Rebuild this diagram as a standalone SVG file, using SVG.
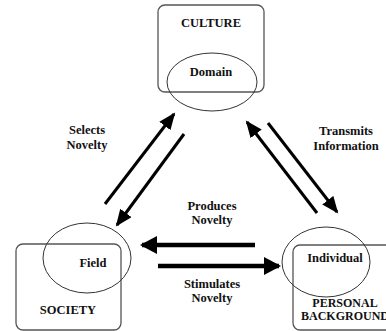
<svg xmlns="http://www.w3.org/2000/svg" width="386" height="331" viewBox="0 0 386 331" font-family="Liberation Serif, Times New Roman, serif">
<style>
text{font-size:12.5px;font-weight:bold;fill:#111;text-anchor:middle}
.box{fill:none;stroke:#555;stroke-width:1.3}
.ell{fill:none;stroke:#333;stroke-width:1}
.arr{stroke:#000;stroke-width:3;fill:none;marker-end:url(#ah)}
.harr{stroke:#000;stroke-width:4.5;fill:none;marker-end:url(#hh)}
</style>
<defs>
<marker id="ah" markerUnits="userSpaceOnUse" markerWidth="18" markerHeight="16" refX="15" refY="7" orient="auto"><path d="M0,0 L17,7 L0,14 z" fill="#000"/></marker>
<marker id="hh" markerUnits="userSpaceOnUse" markerWidth="20" markerHeight="20" refX="15" refY="9" orient="auto"><path d="M0,0 L17,9 L0,18 z" fill="#000"/></marker>
</defs>
<rect width="386" height="331" fill="#fff"/>
<g id="culture">
<rect class="box" x="158" y="5" width="106" height="87" rx="7"/>
<ellipse class="ell" cx="212" cy="82" rx="45" ry="29"/>
<text x="211" y="27">CULTURE</text>
<text x="211" y="76">Domain</text>
</g>
<g id="society">
<rect class="box" x="16" y="244" width="105" height="86" rx="7"/>
<ellipse class="ell" cx="87" cy="258" rx="44" ry="35"/>
<text x="93" y="267">Field</text>
<text x="68" y="314">SOCIETY</text>
</g>
<g id="personal">
<rect class="box" x="293" y="245" width="100" height="85" rx="7"/>
<ellipse class="ell" cx="326" cy="262" rx="44" ry="35"/>
<text x="335" y="262">Individual</text>
<text x="345" y="307" style="font-size:12px">PERSONAL</text>
<text x="345" y="320" style="font-size:12px">BACKGROUND</text>
</g>
<g id="connectors">
<line class="arr" x1="105" y1="204" x2="174" y2="114"/>
<line class="arr" x1="184" y1="134" x2="117" y2="225"/>
<line class="arr" x1="317" y1="213" x2="247" y2="122"/>
<line class="arr" x1="268" y1="123" x2="337" y2="212"/>
<line class="harr" x1="255" y1="245" x2="142" y2="245"/>
<line class="harr" x1="158" y1="266" x2="279" y2="266"/>
</g>
<g id="labels">
<text x="87" y="134">Selects</text>
<text x="87" y="149">Novelty</text>
<text x="346" y="135">Transmits</text>
<text x="346" y="150">Information</text>
<text x="212" y="210">Produces</text>
<text x="212" y="224">Novelty</text>
<text x="212" y="288">Stimulates</text>
<text x="212" y="302">Novelty</text>
</g>
</svg>
